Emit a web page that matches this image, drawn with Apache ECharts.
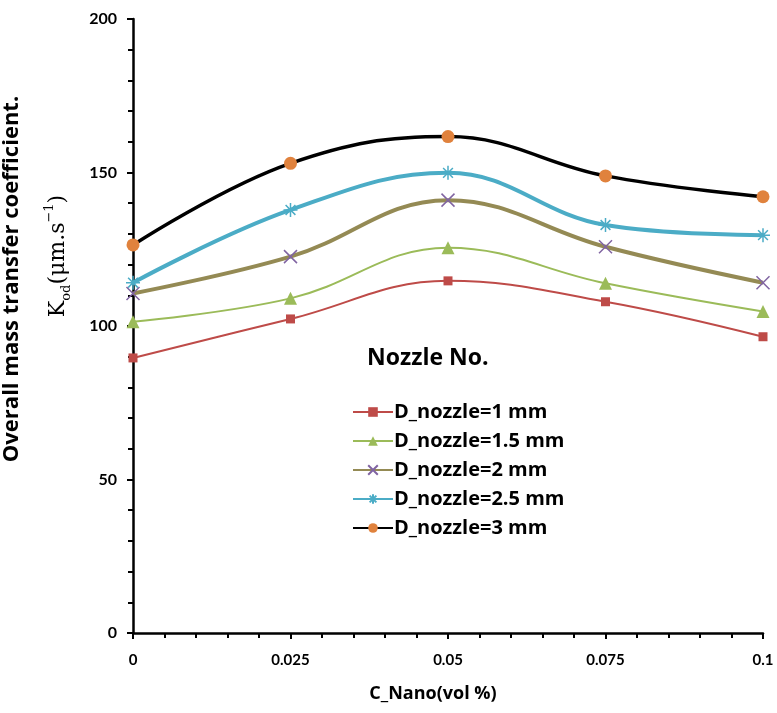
<!DOCTYPE html>
<html>
<head>
<meta charset="utf-8">
<script src="https://cdn.jsdelivr.net/npm/echarts@6/dist/echarts.min.js"></script>
<style>
  html, body { margin: 0; padding: 0; background: #fff; }
  #chart { width: 777px; height: 713px; }
</style>
</head>
<body>
<div id="chart"></div>
<script>
// concentration (vol %)
var cNano = [0, 0.025, 0.05, 0.075, 0.1];
// Kod values per nozzle diameter
var d1 = [89.6, 102.3, 114.7, 107.9, 96.5];
var d15 = [101.4, 109.0, 125.5, 113.9, 104.7];
var d2 = [110.6, 122.6, 141.0, 125.8, 114.1];
var d25 = [114.1, 137.8, 149.9, 132.9, 129.6];
var d3 = [126.4, 153.0, 161.7, 148.9, 142.1];
var xTicks = ['0', '0.025', '0.05', '0.075', '0.1'];

var FONT = 'Lato';
var WIDE = 'Open Sans';

function pairs(arr) {
  return arr.map(function (v, i) { return [cNano[i], v]; });
}

var chart = echarts.init(document.getElementById('chart'));

var xMark = 'path://M0,0L10,10M10,0L0,10';
var star = 'path://M5,0L5,10M0,5L10,5M1.5,1.5L8.5,8.5M8.5,1.5L1.5,8.5';

chart.setOption({
  animation: false,
  grid: { left: 133, right: 14, top: 19, bottom: 80 },
  title: {
    text: 'Nozzle No.',
    left: 367, top: 347,
    padding: 0,
    textStyle: { fontFamily: WIDE, fontWeight: 'bold', fontSize: 23, color: '#000' }
  },
  legend: {
    orient: 'vertical',
    left: 352, top: 402,
    padding: 0,
    itemGap: 9,
    itemWidth: 40, itemHeight: 12,
    textStyle: { fontFamily: WIDE, fontWeight: 'bold', fontSize: 20, color: '#000', padding: [0, 0, 0, -4] },
    data: ['D_nozzle=1 mm', 'D_nozzle=1.5 mm', 'D_nozzle=2 mm', 'D_nozzle=2.5 mm', 'D_nozzle=3 mm']
  },
  xAxis: {
    type: 'value',
    min: 0, max: 0.1, interval: 0.025,
    name: 'C_Nano(vol %)',
    nameLocation: 'middle',
    nameGap: 52,
    nameTextStyle: { fontFamily: WIDE, fontWeight: 'bold', fontSize: 18, color: '#000', padding: [0, 0, 0, -30] },
    axisLine: { lineStyle: { color: '#000', width: 2.5 } },
    axisTick: { show: true, length: 6, lineStyle: { color: '#000', width: 2 } },
    minorTick: { show: true, splitNumber: 5, length: 5, lineStyle: { color: '#000', width: 2 } },
    splitLine: { show: false },
    axisLabel: {
      margin: 20,
      fontFamily: FONT, fontWeight: 'bold', fontSize: 15, color: '#000',
      formatter: function (v) {
        var i = cNano.indexOf(+v.toFixed(3));
        return i >= 0 ? xTicks[i] : '';
      }
    }
  },
  yAxis: {
    type: 'value',
    min: 0, max: 200, interval: 50,
    axisLine: { show: true, lineStyle: { color: '#000', width: 2.5 } },
    axisTick: { show: true, length: 6, lineStyle: { color: '#000', width: 2 } },
    minorTick: { show: true, splitNumber: 5, length: 5, lineStyle: { color: '#000', width: 2 } },
    splitLine: { show: false },
    axisLabel: { margin: 16, fontFamily: FONT, fontWeight: 'bold', fontSize: 16, color: '#000' }
  },
  graphic: [
    {
      type: 'text',
      x: 12, y: 279,
      rotation: Math.PI / 2,
      style: {
        text: 'Overall mass transfer coefficient.',
        fontFamily: WIDE, fontWeight: 'bold', fontSize: 22, fill: '#000',
        align: 'center', verticalAlign: 'middle'
      }
    },
    {
      type: 'text',
      x: 58, y: 256,
      rotation: Math.PI / 2,
      style: {
        text: '{b|K}{s|od}{b|(μm.s}{p|−1}{b|)}',
        align: 'center', verticalAlign: 'middle',
        rich: {
          b: { fontFamily: 'DejaVu Serif', fontSize: 22, fill: '#000', lineHeight: 30, verticalAlign: 'middle' },
          s: { fontFamily: 'DejaVu Serif', fontSize: 13, fill: '#000', lineHeight: 30, verticalAlign: 'bottom', padding: [12, 0, 0, 0] },
          p: { fontFamily: 'DejaVu Serif', fontSize: 13, fill: '#000', lineHeight: 30, verticalAlign: 'top', padding: [0, 0, 12, 0] }
        }
      }
    }
  ],
  series: [
    {
      name: 'D_nozzle=1 mm', type: 'line', smooth: 0.4,
      data: pairs(d1),
      symbol: 'rect', symbolSize: 9,
      color: '#BE4B48',
      lineStyle: { color: '#BE4B48', width: 2 },
      itemStyle: { color: '#BE4B48' }
    },
    {
      name: 'D_nozzle=1.5 mm', type: 'line', smooth: 0.4,
      data: pairs(d15),
      symbol: 'triangle', symbolSize: 13,
      color: '#9BBB59',
      lineStyle: { color: '#9BBB59', width: 2 },
      itemStyle: { color: '#9BBB59' }
    },
    {
      name: 'D_nozzle=2 mm', type: 'line', smooth: 0.4,
      data: pairs(d2),
      symbol: xMark, symbolSize: 13,
      color: '#948A54',
      lineStyle: { color: '#948A54', width: 4 },
      itemStyle: { color: 'rgba(0,0,0,0)', borderColor: '#8064A2', borderWidth: 1.5 }
    },
    {
      name: 'D_nozzle=2.5 mm', type: 'line', smooth: 0.4,
      data: pairs(d25),
      symbol: star, symbolSize: 14,
      color: '#4BACC6',
      lineStyle: { color: '#4BACC6', width: 4 },
      itemStyle: { color: 'rgba(0,0,0,0)', borderColor: '#4BACC6', borderWidth: 1.5 }
    },
    {
      name: 'D_nozzle=3 mm', type: 'line', smooth: 0.4,
      data: pairs(d3),
      symbol: 'circle', symbolSize: 13,
      color: '#000',
      lineStyle: { color: '#000', width: 3.5 },
      itemStyle: { color: '#E0823D' }
    }
  ]
});
</script>
</body>
</html>
